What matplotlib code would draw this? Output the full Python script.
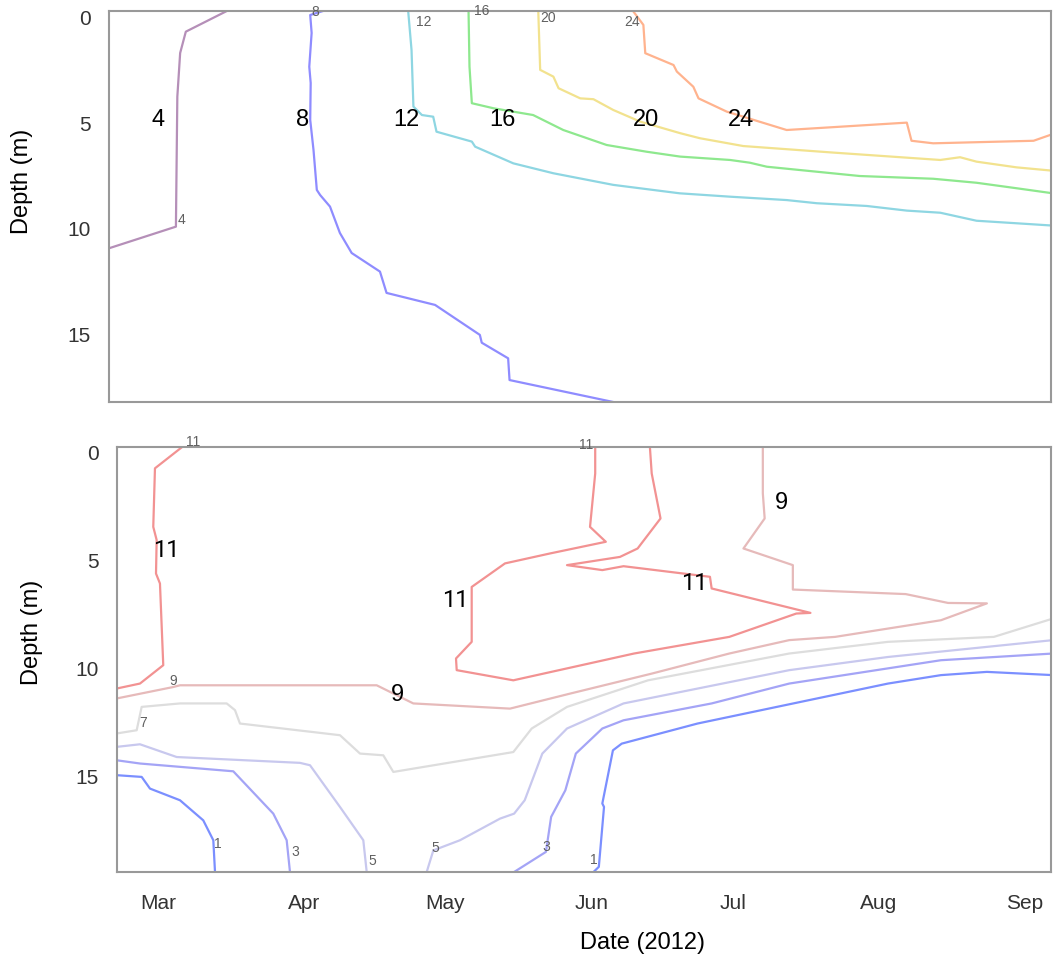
import matplotlib
matplotlib.use("Agg")
import matplotlib.pyplot as plt
import matplotlib.dates as mdates
from datetime import datetime, timedelta

plt.rcParams["font.family"] = ["Liberation Sans", "DejaVu Sans"]

start = datetime(2012, 3, 1)

# ---- top panel: temperature isolines (days after 1 Mar 2012, depth in m)
t4_day = [14.6, 5.9, 4.7, 4.1, 3.8, -10.2]
t4_dep = [-0.33, 0.65, 1.66, 3.73, 9.89, 10.9]

t8_day = [35.0, 32.3, 32.6, 32.1, 32.4, 32.3, 33.0, 33.7, 34.4, 36.5, 38.6, 41.1,
          47.1, 48.5, 58.8, 68.3, 68.7, 74.3, 74.6, 96.6]
t8_dep = [-0.33, -0.14, 0.71, 2.31, 3.08, 4.83, 6.26, 8.15, 8.39, 8.94, 10.19, 11.14,
          12.02, 13.03, 13.6, 15.02, 15.39, 16.13, 17.16, 18.2]

t12_day = [53.1, 53.8, 54.2, 56.0, 58.4, 59.1, 66.6, 67.3, 75.4, 83.9, 96.6, 110.7,
           121.4, 133.4, 139.8, 150.4, 158.9, 166.0, 173.7, 182.2, 189.9]
t12_dep = [-0.3, 1.52, 4.2, 4.6, 4.68, 5.39, 5.86, 6.1, 6.89, 7.36, 7.91, 8.31,
           8.47, 8.63, 8.78, 8.91, 9.13, 9.23, 9.61, 9.73, 9.84]

t16_day = [65.9, 66.1, 66.6, 71.2, 79.6, 86.0, 95.2, 103.7, 110.8, 121.4, 125.6,
           129.2, 148.9, 164.5, 173.7, 182.2, 189.9]
t16_dep = [-0.3, 2.31, 4.04, 4.28, 4.6, 5.31, 6.02, 6.34, 6.57, 6.73, 6.86,
           7.05, 7.49, 7.62, 7.81, 8.07, 8.31]

t20_day = [80.7, 81.1, 83.9, 85.0, 89.6, 92.4, 96.6, 102.3, 110.8, 115.0, 124.2,
           143.3, 166.0, 170.2, 173.7, 182.2, 189.9]
t20_dep = [-0.3, 2.46, 2.78, 3.33, 3.81, 3.85, 4.36, 4.91, 5.46, 5.7, 6.07,
           6.38, 6.73, 6.6, 6.81, 7.08, 7.24]

t24_day = [100.9, 103.0, 103.4, 109.4, 110.1, 113.6, 114.7, 120.7, 133.4, 158.9,
           159.9, 164.5, 185.8, 189.9]
t24_dep = [-0.3, 0.33, 1.67, 2.23, 2.54, 3.26, 3.81, 4.44, 5.31, 4.96,
           5.82, 5.94, 5.82, 5.5]

# ---- bottom panel: oxygen isolines
o11a_day = [5.03, -0.64, -1.00, -0.28, -0.42, 0.42, 1.12, -3.82, -8.76]
o11a_dep = [-0.22, 0.75, 3.46, 4.07, 5.62, 6.08, 9.86, 10.71, 10.94]

o11b_day = [92.78, 92.78, 91.68, 95.03, 83.19, 73.64, 66.57, 66.57, 63.24, 63.39,
            75.40, 101.02, 121.24, 135.46, 138.45, 117.49, 117.13, 98.79, 94.29,
            86.80, 98.03, 101.78, 106.64, 104.77, 104.39]
o11b_dep = [-0.22, 0.99, 3.46, 4.15, 4.69, 5.15, 6.24, 8.78, 9.55, 10.09,
            10.56, 9.32, 8.55, 7.47, 7.44, 6.31, 5.77, 5.28, 5.46,
            5.23, 4.85, 4.46, 3.07, 0.99, -0.22]

o9_day = [-8.76, 3.25, 4.67, 46.41, 54.18, 74.70, 87.54, 104.77, 121.24, 133.96,
          143.70, 166.15, 175.89, 167.66, 158.66, 134.72, 134.72, 124.24, 128.74,
          128.35, 128.35]
o9_dep = [11.40, 10.87, 10.79, 10.79, 11.63, 11.87, 11.17, 10.25, 9.32, 8.70,
          8.55, 7.78, 7.00, 6.98, 6.57, 6.36, 5.23, 4.46, 3.07,
          1.91, -0.22]

o7_day = [-8.76, -4.52, -3.46, 4.67, 14.58, 16.34, 17.40, 38.62, 42.87, 47.81,
          49.94, 75.40, 79.31, 86.80, 103.99, 133.96, 154.92, 177.38, 189.94]
o7_dep = [13.02, 12.87, 11.79, 11.63, 11.63, 11.94, 12.56, 13.10, 13.95, 14.03,
          14.80, 13.88, 12.79, 11.79, 10.56, 9.32, 8.78, 8.55, 7.70]

o5a_day = [-8.76, -3.82, 3.97, 30.14, 32.26, 38.62, 43.57, 44.29]
o5a_dep = [13.64, 13.52, 14.11, 14.38, 14.49, 16.42, 17.96, 19.43]
o5b_day = [57.02, 58.43, 64.09, 72.58, 75.57, 77.82, 81.56, 86.80, 98.79,
           133.96, 154.92, 189.94]
o5b_dep = [19.43, 18.43, 17.96, 16.96, 16.73, 16.11, 13.95, 12.79, 11.63,
           10.09, 9.48, 8.70]

o3a_day = [-8.76, -3.82, 15.98, 24.47, 27.31, 28.01]
o3a_dep = [14.26, 14.41, 14.77, 16.73, 17.96, 19.43]
o3b_day = [75.57, 82.32, 83.43, 86.44, 88.67, 94.29, 98.79, 117.49, 133.96,
           166.15, 189.94]
o3b_dep = [19.43, 18.50, 16.88, 15.65, 13.95, 12.79, 12.41, 11.63, 10.71,
           9.63, 9.32]

o1a_day = [-8.76, -3.46, -1.70, 4.67, 9.61, 11.74, 12.10]
o1a_dep = [14.95, 15.03, 15.57, 16.11, 17.04, 17.96, 19.43]
o1b_day = [92.42, 93.55, 94.65, 94.29, 96.54, 98.41, 114.49, 154.92, 166.15,
           175.89, 189.94]
o1b_dep = [19.43, 19.19, 16.42, 16.26, 13.80, 13.49, 12.56, 10.71, 10.32,
           10.17, 10.32]

# labels: (text, day, depth)
top_big = [("4", 0.0, 4.83), ("8", 30.6, 4.83), ("12", 52.6, 4.83),
           ("16", 73.0, 4.83), ("20", 103.6, 4.83), ("24", 123.7, 4.83)]
top_small = [("8", 33.3, -0.3), ("12", 56.3, 0.17), ("16", 68.7, -0.35),
             ("20", 82.8, 0.01), ("24", 100.5, 0.17), ("4", 5.0, 9.57)]
bot_big = [("11", 1.7, 4.54), ("11", 63.0, 6.85), ("9", 50.9, 11.25),
           ("11", 113.8, 6.06), ("9", 132.4, 2.36)]
bot_small = [("11", 7.5, -0.48), ("11", 90.9, -0.32), ("9", 3.25, 10.59),
             ("7", -3.25, 12.53), ("1", 12.8, 18.15), ("3", 29.1, 18.5),
             ("5", 45.4, 18.92), ("5", 58.8, 18.3), ("3", 82.3, 18.27),
             ("1", 92.4, 18.86)]


def dd(days):
    return [start + timedelta(days=d) for d in days]


W, H = 1053, 972
fig = plt.figure(figsize=(W / 100, H / 100), dpi=100)
ax1 = fig.add_axes([109 / W, 1 - 402 / H, (1051 - 109) / W, (402 - 11) / H])
ax2 = fig.add_axes([116.7 / W, 1 - 872 / H, (1051 - 116.7) / W, (872 - 446.7) / H])

lw = 1.6
ax1.plot(dd(t4_day), t4_dep, color="#b58fb8", lw=lw)
ax1.plot(dd(t8_day), t8_dep, color="#8f8cff", lw=lw)
ax1.plot(dd(t12_day), t12_dep, color="#8ed6e2", lw=lw)
ax1.plot(dd(t16_day), t16_dep, color="#8ee88e", lw=lw)
ax1.plot(dd(t20_day), t20_dep, color="#f2e28e", lw=lw)
ax1.plot(dd(t24_day), t24_dep, color="#ffb38e", lw=lw)

ax2.plot(dd(o11a_day), o11a_dep, color="#f29292", lw=lw)
ax2.plot(dd(o11b_day), o11b_dep, color="#f29292", lw=lw)
ax2.plot(dd(o9_day), o9_dep, color="#e6baba", lw=lw)
ax2.plot(dd(o7_day), o7_dep, color="#dddddd", lw=lw)
ax2.plot(dd(o5a_day), o5a_dep, color="#c8c8ee", lw=lw)
ax2.plot(dd(o5b_day), o5b_dep, color="#c8c8ee", lw=lw)
ax2.plot(dd(o3a_day), o3a_dep, color="#a4a4f6", lw=lw)
ax2.plot(dd(o3b_day), o3b_dep, color="#a4a4f6", lw=lw)
ax2.plot(dd(o1a_day), o1a_dep, color="#7b8fff", lw=lw)
ax2.plot(dd(o1b_day), o1b_dep, color="#7b8fff", lw=lw)

# Liberation kerns "11" very tightly, Roboto keeps the normal gap
for ax, labs in ((ax1, top_big), (ax2, bot_big)):
    for s, d, z in labs:
        fam = ["Roboto", "Liberation Sans"] if s == "11" else None
        ax.text(start + timedelta(days=d), z, s, fontsize=17, ha="center",
                va="center", family=fam)
for ax, labs in ((ax1, top_small), (ax2, bot_small)):
    for s, d, z in labs:
        ax.text(start + timedelta(days=d), z, s, fontsize=10, color="#606060",
                ha="center", va="center", clip_on=False)

ax1.set_xlim(start - timedelta(days=10.4), start + timedelta(days=189.5))
ax2.set_xlim(start - timedelta(days=8.76), start + timedelta(days=189.5))
ax1.set_ylim(18.2, -0.33)
ax2.set_ylim(19.43, -0.25)

for ax in (ax1, ax2):
    ax.set_yticks([0, 5, 10, 15])
    ax.xaxis.set_major_locator(mdates.MonthLocator())
    ax.xaxis.set_major_formatter(mdates.DateFormatter("%b"))
    ax.tick_params(length=0, labelsize=15, labelcolor="#333333", pad=13)
    for sp in ax.spines.values():
        sp.set_color("#999999")
        sp.set_linewidth(1.5)
ax1.tick_params(axis="x", labelbottom=False)
ax2.tick_params(axis="x", pad=16)

fig.text(22 / W, 1 - 181 / H, "Depth (m)", rotation=90, fontsize=17,
         ha="center", va="center")
fig.text(32 / W, 1 - 632 / H, "Depth (m)", rotation=90, fontsize=17,
         ha="center", va="center")
fig.text(642 / W, 1 - 943 / H, "Date (2012)", fontsize=17, ha="center", va="center")

fig.savefig("out.png", dpi=100)
